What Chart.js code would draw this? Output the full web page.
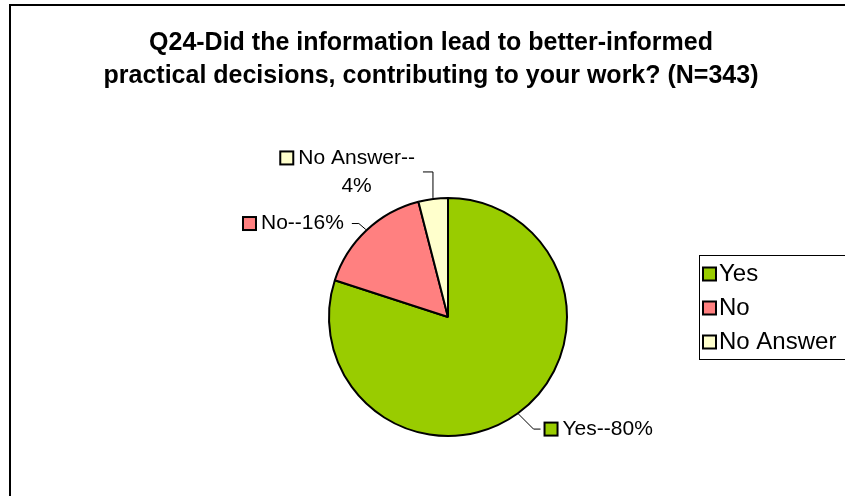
<!DOCTYPE html>
<html>
<head>
<meta charset="utf-8">
<script src="https://cdn.jsdelivr.net/npm/chart.js@4/dist/chart.umd.min.js"></script>
<style>
  html, body { margin: 0; padding: 0; background: #fff; }
  #wrap { position: relative; width: 845px; height: 496px; }
</style>
</head>
<body>
<div id="wrap"><canvas id="q24"></canvas></div>
<script>
const titleLines = [
    'Q24-Did the information lead to better-informed',
    'practical decisions, contributing to your work? (N=343)'
];
const categories = ['Yes', 'No', 'No Answer'];
const percents = [80, 16, 4];
const colours = ['#99CC00', '#FF8080', '#FFFFCC'];

const FONT = '"Liberation Sans", Arial, sans-serif';

// where each slice's leader line bends and which side its label sits on
const leaders = [
    { elbow: [15, 15], run: 7, side: 'right' },
    { elbow: [-7, -6], run: -7, side: 'left' },
    { elbow: [0, -26], run: -10, side: 'left' }
];

function swatch(ctx, x, y, size, fill) {
    ctx.fillStyle = fill;
    ctx.fillRect(x, y, size, size);
    ctx.lineWidth = 2;
    ctx.strokeStyle = '#000';
    ctx.strokeRect(x, y, size, size);
}

const framePlugin = {
    id: 'frame',
    beforeDraw(chart) {
        const ctx = chart.ctx;
        ctx.save();
        ctx.fillStyle = '#fff';
        ctx.fillRect(0, 0, chart.width, chart.height);
        ctx.lineWidth = 2;
        ctx.strokeStyle = '#000';
        ctx.strokeRect(10, 5, 1000, 1000);

        ctx.fillStyle = '#000';
        ctx.font = 'bold 25px ' + FONT;
        ctx.textAlign = 'center';
        ctx.textBaseline = 'middle';
        titleLines.forEach((t, i) => ctx.fillText(t, 431, 43 + i * 33));
        ctx.restore();
    }
};

const labelPlugin = {
    id: 'sliceLabels',
    afterDatasetsDraw(chart) {
        const ctx = chart.ctx;
        const meta = chart.getDatasetMeta(0);
        ctx.save();
        ctx.font = '21px ' + FONT;
        ctx.textBaseline = 'middle';
        meta.data.forEach((arc, i) => {
            const p = arc.getProps(['x', 'y', 'startAngle', 'endAngle', 'outerRadius'], true);
            const mid = (p.startAngle + p.endAngle) / 2;
            const ax = p.x + Math.cos(mid) * (p.outerRadius + 1);
            const ay = p.y + Math.sin(mid) * (p.outerRadius + 1);
            const l = leaders[i];
            const ex = ax + l.elbow[0], ey = ay + l.elbow[1];
            const tx = ex + l.run;

            ctx.strokeStyle = '#000';
            ctx.lineWidth = 1;
            ctx.beginPath();
            ctx.moveTo(ax, ay);
            ctx.lineTo(ex, ey);
            ctx.lineTo(tx, ey);
            ctx.stroke();

            // label text, wrapped after the dashes when it gets too wide
            const full = categories[i] + '--' + percents[i] + '%';
            let lines = [full];
            if (ctx.measureText(full).width > 130) {
                lines = [categories[i] + '--', percents[i] + '%'];
            }
            const lh = 28;
            const textW = Math.max(...lines.map(s => ctx.measureText(s).width));
            const sq = 13, gap = 5;
            let textLeft;
            if (l.side === 'right') {
                textLeft = tx + 4 + sq + gap;
            } else {
                textLeft = tx - 8 - textW;
            }
            const top = ey - (lines.length - 1) * lh / 2;
            swatch(ctx, textLeft - gap - sq, top - sq / 2, sq, colours[i]);
            ctx.fillStyle = '#000';
            ctx.textAlign = 'center';
            lines.forEach((s, k) => ctx.fillText(s, textLeft + textW / 2, top + k * lh));
        });
        ctx.restore();
    }
};

const legendPlugin = {
    id: 'boxLegend',
    afterDraw(chart) {
        const ctx = chart.ctx;
        ctx.save();
        ctx.lineWidth = 1;
        ctx.strokeStyle = '#000';
        ctx.strokeRect(699.5, 255.5, 300, 104);
        ctx.font = '24px ' + FONT;
        ctx.textBaseline = 'middle';
        ctx.textAlign = 'left';
        categories.forEach((c, i) => {
            const cy = 274 + i * 34;
            swatch(ctx, 703, cy - 6.5, 13, colours[i]);
            ctx.fillStyle = '#000';
            ctx.fillText(c, 719, cy);
        });
        ctx.restore();
    }
};

new Chart(document.getElementById('q24'), {
    type: 'pie',
    data: {
        labels: categories,
        datasets: [{
            data: percents,
            backgroundColor: colours,
            borderColor: '#000',
            borderWidth: 2
        }]
    },
    options: {
        responsive: true,
        maintainAspectRatio: false,
        animation: false,
        events: [],
        radius: 119,
        layout: { padding: { left: 51, right: 0, top: 138, bottom: 0 } },
        plugins: {
            legend: { display: false },
            title: { display: false },
            tooltip: { enabled: false }
        }
    },
    plugins: [framePlugin, labelPlugin, legendPlugin]
});
</script>
</body>
</html>
